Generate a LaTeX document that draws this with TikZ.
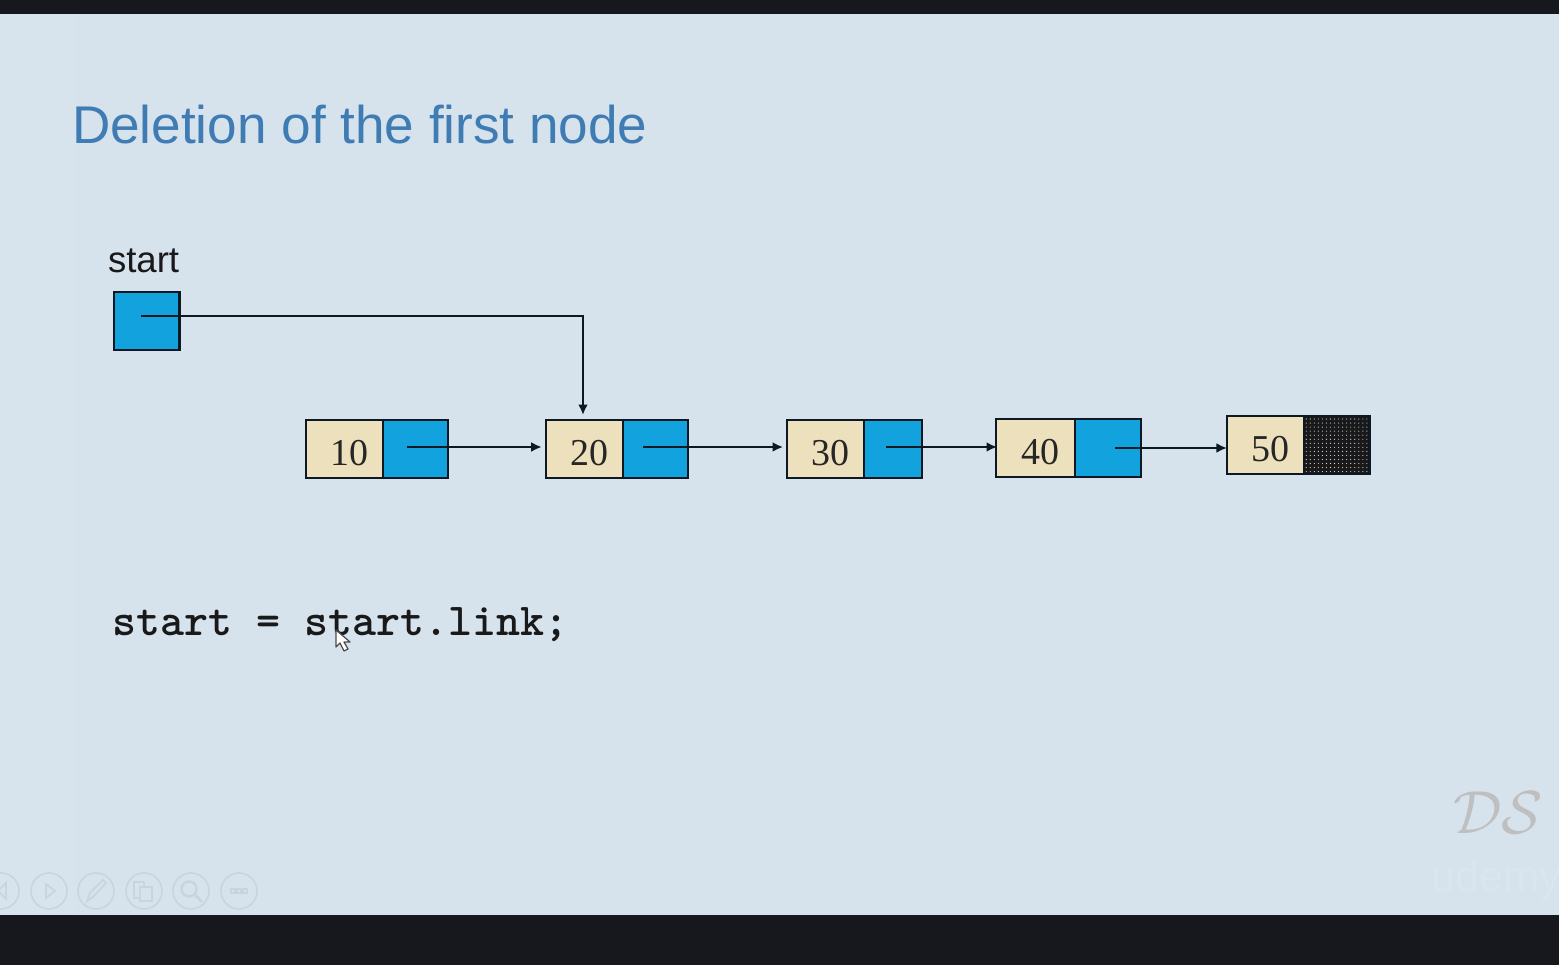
\documentclass[tikz,border=0pt]{standalone}
\usepackage{fontspec}
\setmainfont{Liberation Sans}
\newfontfamily\numfont{Liberation Serif}
\usetikzlibrary{arrows.meta,positioning,shapes,patterns.meta}
\definecolor{slidebg}{HTML}{D6E2EC}
\definecolor{slideleft}{HTML}{D8E4ED}
\definecolor{brandcol}{HTML}{DAE5EE}
\definecolor{barcol}{HTML}{16181D}
\definecolor{titlecol}{HTML}{3F7CB4}
\definecolor{linkcol}{HTML}{12A3DE}
\definecolor{datacol}{HTML}{EDE0BD}
\definecolor{edgecol}{HTML}{0E1822}
\definecolor{toolcol}{HTML}{C9D4DE}
\tikzset{
	cellbox/.style={draw=edgecol,line width=.75pt,inner sep=0,outer sep=0,anchor=north west},
	databox/.style={cellbox,fill=datacol,font=\numfont\fontsize{10.8}{12}\selectfont,text=black!85,text height=9.5pt,text depth=0pt},
	linkbox/.style={cellbox,fill=linkcol},
	nullbox/.style={cellbox,preaction={fill=black!90},pattern={Dots[distance=1.15pt,radius=.16pt]},pattern color=slidebg},
	linkarrow/.style={draw=edgecol,line width=.6pt,-{Latex[length=3pt,width=2.8pt]}},
	plaintext/.style={inner sep=0,outer sep=0,anchor=base west},
	toolbtn/.style={circle,draw=toolcol,line width=.45pt,minimum size=.36cm,inner sep=0},
	toolicon/.style={draw=toolcol,line width=.5pt}
}
\begin{document}
\begin{tikzpicture}[x=.01cm,y=-.01cm]
	\useasboundingbox (0,0) rectangle (1559,965);
	\fill[slidebg] (0,0) rectangle (1559,965);
	\fill[slideleft] (0,14) rectangle (75,915);
	\fill[barcol] (0,0) rectangle (1559,14);
	\fill[barcol] (0,915) rectangle (1559,965);

	\node[plaintext,text=titlecol,font=\fontsize{15.1}{17}\selectfont] (title) at (72,144) {Deletion of the first node};
	\node[plaintext,text=black!90,font=\fontsize{10.4}{12}\selectfont] (startlabel) at (108,273) {start};
	\node[linkbox,minimum width=.655cm,minimum height=.58cm] (Start) at (114,292) {};
	\coordinate (Pstart) at (141,316);

	\foreach \i/\xa/\xb/\xc/\ya/\yb/\xp/\yp in {10/306/383/448/420/478/407/447,20/546/623/688/420/478/643/447,30/787/864/922/420/478/886/447,40/996/1075/1141/419/477/1115/448}{
		\node[databox,minimum width={(\xb-\xa)*.01cm},minimum height={(\yb-\ya)*.01cm}] (D\i) at (\xa,\ya) {\hspace*{2.6pt}\i};
		\node[linkbox,minimum width={(\xc-\xb)*.01cm},minimum height={(\yb-\ya)*.01cm}] (L\i) at (\xb,\ya) {};
		\coordinate (P\i) at (\xp,\yp);
	}
	\node[databox,minimum width=.77cm,minimum height=.58cm] (D50) at (1227,416) {\hspace*{2.6pt}50};
	\node[nullbox,minimum width=.655cm,minimum height=.58cm] (L50) at (1304,416) {};

	\draw[linkarrow,shorten >=1.4pt] (Pstart) -| ([xshift=-.015cm]D20.north);
	\foreach \a/\b/\gap in {10/20/1.2pt,20/30/1.1pt,30/40/-.3pt,40/50/0pt}
		\draw[linkarrow,shorten >=\gap] (P\a) -- (P\a -| D\b.west);

	\node[plaintext,text=black!90,font=\ttfamily\bfseries\fontsize{13}{14}\selectfont] (code) at (112,636) {start = start.link;};

	\draw[fill=white,draw=black!70,line width=.35pt,line join=round] (336,630) -- (336,647) -- (340,643) -- (344,651) -- (348,649) -- (344,642) -- (350,642) -- cycle;

	\node[inner sep=0,text=black!25,font=\fontsize{17}{20}\selectfont] (mark) at (1498,813) {$\mathcal{D}\mathcal{S}$};
	\node[inner sep=0,anchor=base west,text=brandcol,font=\fontsize{12.3}{14}\selectfont] (brand) at (1431,892) {udemy};

	\begin{scope}
		\clip (0,860) rectangle (280,915);
		\foreach \n/\x in {back/1,play/49,pen/96,wins/144,zoom/191,more/239}
			\node[toolbtn] (\n) at (\x,891) {};
	\end{scope}
	\draw[toolicon] (6,883) -- (-2,891) -- (6,899) -- cycle;
	\draw[toolicon] (46,884) -- (55,891) -- (46,898) -- cycle;
	\draw[toolicon] (87,901) -- (90,893) -- (103,880) -- (106,883) -- (93,897) -- cycle;
	\draw[toolicon] (134,882) -- (144,882) -- (144,898) -- (134,898) -- cycle;
	\draw[toolicon,fill=slidebg] (140,887) -- (152,887) -- (152,901) -- (140,901) -- cycle;
	\node[toolbtn,minimum size=.15cm,line width=.7pt] (lens) at (189,889) {};
	\draw[toolicon,line width=.8pt] (lens.south east) -- (202,902);
	\foreach \x in {233,239,245}
		\draw[toolicon] (\x,891) +(-2,-2) rectangle +(2,2);
\end{tikzpicture}
\end{document}
